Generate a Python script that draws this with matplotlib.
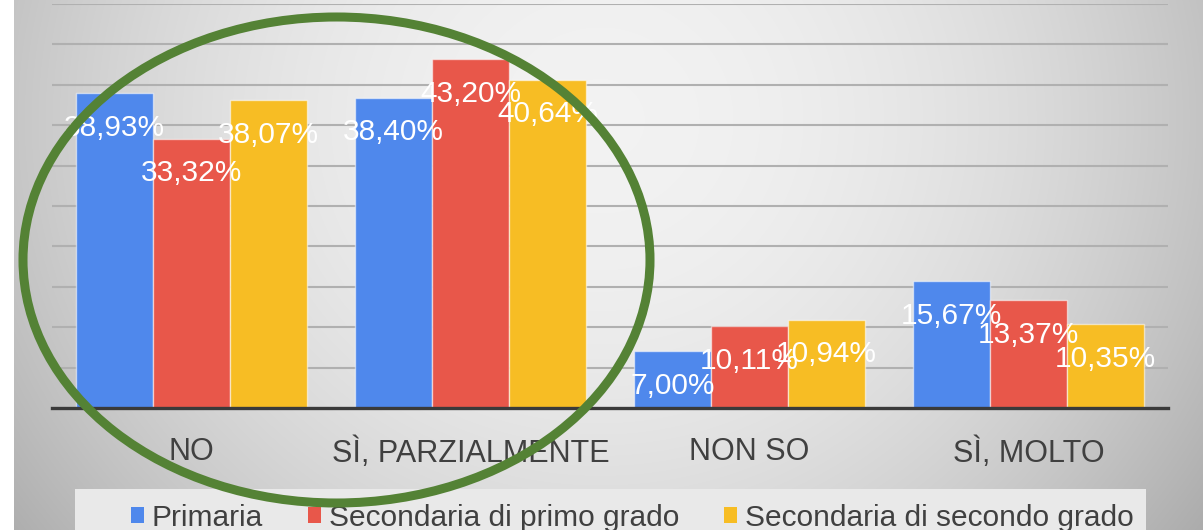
import numpy as np
import matplotlib
matplotlib.use("Agg")
import matplotlib.pyplot as plt
from matplotlib.patches import Ellipse, Rectangle, Patch

plt.rcParams['font.family'] = ['Liberation Sans', 'DejaVu Sans']

categories = ["NO", "SÌ, PARZIALMENTE", "NON SO", "SÌ, MOLTO"]
series_names = ["Primaria", "Secondaria di primo grado", "Secondaria di secondo grado"]
primaria = [38.93, 38.40, 7.00, 15.67]
primo_grado = [33.32, 43.20, 10.11, 13.37]
secondo_grado = [38.07, 40.64, 10.94, 10.35]
colors = ["#4f88ec", "#e8574a", "#f7bd24"]

W, H = 1203, 530
fig = plt.figure(figsize=(W / 100, H / 100), dpi=100)

# background gradient
bg = fig.add_axes([0, 0, 1, 1], zorder=-10)
yy, xx = np.mgrid[0:H, 0:W]
v = 0.95 - 0.18 * ((xx - 600) / 600.0) ** 2 - 0.10 * ((yy - 120) / 420.0) ** 2
v = np.clip(v, 0, 1)
img = np.dstack([v, v, v])
img[:, :14, :] = 1.0
bg.imshow(img, extent=[0, W, H, 0], aspect='auto', interpolation='bilinear')
bg.set_xlim(0, W)
bg.set_ylim(H, 0)
bg.axis('off')

# legend background box
fig.patches.append(Rectangle((75 / W, 0), (1146 - 75) / W, (530 - 489) / H,
                             transform=fig.transFigure, facecolor="#e9e9e9",
                             edgecolor="none", zorder=-5))

ax = fig.add_axes([52 / W, 1 - 408 / H, (1168 - 52) / W, (408 - 4) / H])
ax.set_facecolor('none')
x = np.arange(len(categories))
bw = 0.276
series = [primaria, primo_grado, secondo_grado]
for i, (vals, col) in enumerate(zip(series, colors)):
    bars = ax.bar(x + (i - 1) * bw, vals, width=bw, color=col,
                  edgecolor=(1, 1, 1, 0.55), linewidth=1.0, zorder=3)
    for b, val in zip(bars, vals):
        ax.annotate(f"{val:.2f}%".replace(".", ","),
                    (b.get_x() + b.get_width() / 2, b.get_height()),
                    xytext=(0, -25), textcoords='offset points',
                    ha='center', va='center', color='white', fontsize=21.5,
                    zorder=5)

ax.set_ylim(0, 50)
ax.set_xlim(-0.5, len(categories) - 0.5)
ax.set_yticks(np.arange(5, 51, 5))
ax.yaxis.grid(True, color="#b0b0b0", linewidth=1.5, zorder=0)
ax.set_axisbelow(True)
ax.tick_params(axis='y', length=0, labelleft=False)
ax.set_xticks(x)
ax.set_xticklabels(categories, fontsize=22, color="#404040")
ax.tick_params(axis='x', length=0, pad=21)
for s in ['top', 'right', 'left']:
    ax.spines[s].set_visible(False)
ax.spines['bottom'].set_color("#3a3a3a")
ax.spines['bottom'].set_linewidth(2.4)
ax.spines['bottom'].set_zorder(4)

handles = [Patch(facecolor=c, edgecolor='none') for c in colors]
leg = fig.legend(handles, series_names, loc='center', ncol=3,
                 bbox_to_anchor=(632 / W, 1 - 518 / H), frameon=False,
                 fontsize=21.5, handlelength=0.45, handleheight=0.45,
                 handletextpad=0.25, columnspacing=1.5, labelcolor="#404040")
leg.set_zorder(2)

ell = Ellipse((336.5 / W, 1 - 260 / H), 627 / W, 486 / H, transform=fig.transFigure,
              facecolor='none', edgecolor="#548235", linewidth=6.5, zorder=20)
fig.patches.append(ell)

fig.savefig("out.png", dpi=100)
